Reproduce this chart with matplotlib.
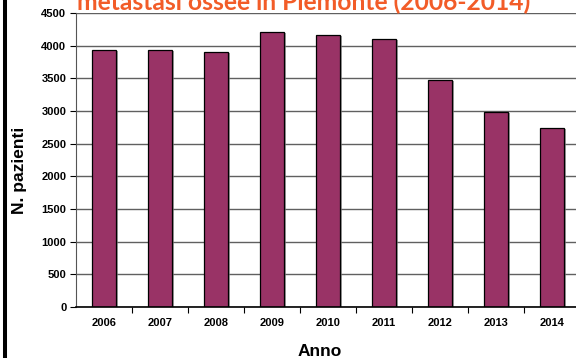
import matplotlib.pyplot as plt
import matplotlib.patheffects as pe
from matplotlib.lines import Line2D
from matplotlib.ticker import FixedLocator, MultipleLocator

anni = ["2006", "2007", "2008", "2009", "2010", "2011", "2012", "2013", "2014"]
pazienti = [3938, 3933, 3907, 4211, 4170, 4103, 3478, 2990, 2744]

titolo = "metastasi ossee in Piemonte (2006-2014)"
bar_color = "#993366"
title_color = "#F25C28"

plt.rcParams["font.family"] = ["Liberation Sans", "DejaVu Sans"]

fig = plt.figure(figsize=(5.76, 3.58), dpi=100)
ax = fig.add_axes([76 / 576, 51 / 358, 504 / 576, 294 / 358])

x = list(range(len(anni)))
bars = ax.bar(x, pazienti, width=0.42, color=bar_color, edgecolor="black",
              linewidth=0.9, zorder=3)
for b in bars:
    b.set_path_effects([
        pe.SimplePatchShadow(offset=(1.5, -1.0), shadow_rgbFace="#777777", alpha=0.7),
        pe.Normal(),
    ])

ax.set_xlim(-0.5, len(anni) - 0.5)
ax.set_ylim(0, 4500)
ax.yaxis.set_major_locator(MultipleLocator(500))
ax.grid(axis="y", color="#606060", linewidth=1.0, zorder=1)

# labels sit under the bars, tick marks between categories
ax.set_xticks(x)
ax.set_xticklabels(anni, fontsize=8, fontweight="bold")
ax.xaxis.set_minor_locator(FixedLocator([i + 0.5 for i in x[:-1]]))
ax.tick_params(axis="x", which="major", length=0, pad=8)
ax.tick_params(axis="x", which="minor", length=4, width=0.8, direction="out")
ax.tick_params(axis="y", length=4, width=0.8, direction="out", pad=3,
               labelsize=8)
for lbl in ax.get_yticklabels():
    lbl.set_fontweight("bold")

for side in ("top", "right"):
    ax.spines[side].set_visible(False)
ax.spines["left"].set_color("#555555")
ax.spines["bottom"].set_color("black")
ax.spines["bottom"].set_linewidth(1.2)
ax.spines["bottom"].set_zorder(4)

fig.text(20 / 576, 1 - 170 / 358, "N. pazienti", rotation=90, fontsize=12.5,
         fontweight="bold", ha="center", va="center")
fig.text(320 / 576, 1 - 351 / 358, "Anno", fontsize=12.5, fontweight="bold",
         ha="center", va="center")
fig.text(304 / 576, 1 - 10 / 358, titolo, fontsize=17.7, fontweight="bold",
         color=title_color, ha="center", va="baseline",
         family=["Lato", "DejaVu Sans"])

# black frame line on the left edge
fig.add_artist(Line2D([4.7 / 576, 4.7 / 576], [0, 1], color="black",
                      linewidth=2.9, transform=fig.transFigure))

fig.savefig("out.png", dpi=100)
